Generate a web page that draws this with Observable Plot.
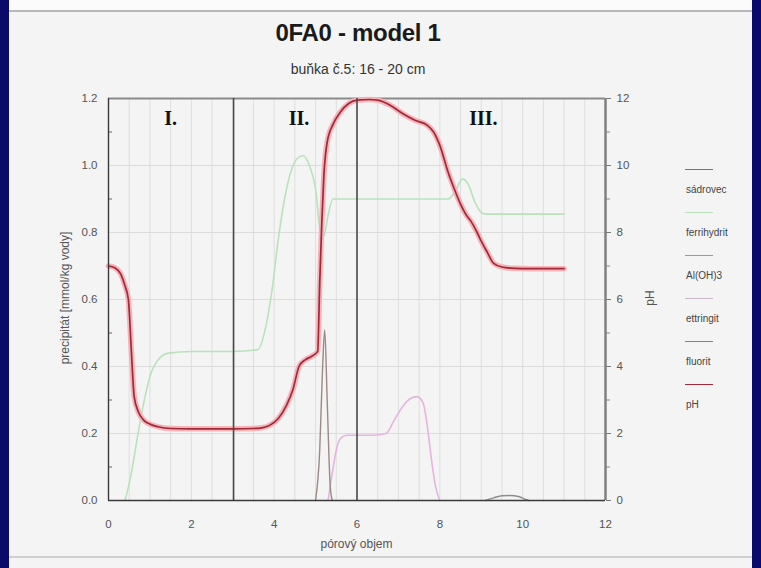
<!DOCTYPE html>
<html>
<head>
<meta charset="utf-8">
<script src="https://cdn.jsdelivr.net/npm/d3@7"></script>
<script src="https://cdn.jsdelivr.net/npm/@observablehq/plot@0.6"></script>
<style>
  html, body { margin:0; padding:0; background:#f4f4f4; }
  #frame { position:relative; width:761px; height:568px; background:#f4f4f4; overflow:hidden; font-family:"Liberation Sans", Arial, sans-serif; }
  .strip { position:absolute; background:#0a0a6a; }
  #title { position:absolute; left:0; width:716px; top:19px; text-align:center; font-weight:bold; font-size:24px; color:#1a1a1a; letter-spacing:-0.3px; }
  #subtitle { position:absolute; left:0; width:716px; top:61px; text-align:center; font-size:14px; color:#333; }
  #chart { position:absolute; left:0; top:80px; }
  #legend { position:absolute; left:684px; top:160px; font-size:10px; color:#444; }
  .item { position:relative; height:43px; }
  .item .ln { position:absolute; left:1px; top:9px; width:28px; height:0; border-top:1.5px solid #888; }
  .item .tx { position:absolute; left:2px; top:24px; white-space:nowrap; }
  .rot { position:absolute; width:300px; text-align:center; font-size:12px; color:#555; transform:rotate(-90deg); transform-origin:center center; }
  #xlab { position:absolute; left:108px; width:497px; top:537px; text-align:center; font-size:12px; color:#555; }
</style>
</head>
<body>
<div id="frame">
  <div class="strip" style="left:0;top:0;width:9px;height:568px"></div>
  <div class="strip" style="left:752px;top:0;width:9px;height:568px"></div>
  <div style="position:absolute;left:9px;top:0;width:743px;height:10px;background:#fbfbfb"></div>
  <div style="position:absolute;left:9px;top:10px;width:743px;height:2px;background:#b8b8b8"></div>
  <div style="position:absolute;left:9px;top:556px;width:743px;height:2px;background:#cfcfcf"></div>
  <div id="title">0FA0 - model 1</div>
  <div id="subtitle">buňka č.5: 16 - 20 cm</div>
  <div id="chart"></div>
  <div id="ylab" class="rot" style="left:-85px;top:291px">precipitát [mmol/kg vody]</div>
  <div id="phlab" class="rot" style="left:500px;top:291px">pH</div>
  <div id="xlab">pórový objem</div>
  <div id="legend"></div>
</div>
<script>
// ---- data ----
const phX = [0,0.15,0.3,0.4,0.48,0.55,0.62,0.72,0.85,1.0,1.2,1.5,2,3,3.5,3.7,3.9,4.1,4.3,4.45,4.6,4.75,4.9,5.05,5.1,5.15,5.2,5.28,5.43,5.6,5.8,6.0,6.3,6.5,6.8,7.1,7.4,7.7,7.85,8.0,8.2,8.35,8.5,8.65,8.75,8.9,9.0,9.15,9.3,9.5,9.8,10.2,11];
const phY = [7.0,6.95,6.75,6.4,6.0,4.5,3.1,2.65,2.4,2.28,2.2,2.15,2.14,2.14,2.15,2.17,2.25,2.45,2.85,3.3,4.0,4.2,4.3,4.45,6.5,8.3,9.7,10.7,11.25,11.6,11.85,11.95,11.97,11.95,11.8,11.55,11.35,11.2,11.0,10.6,9.8,9.3,8.85,8.5,8.34,8.0,7.74,7.4,7.08,6.97,6.93,6.92,6.92];

const ferriX = [0.4,0.55,0.7,0.85,1.0,1.2,1.45,2.0,3.0,3.6,3.8,3.95,4.1,4.25,4.4,4.55,4.7,4.85,5.0,5.12,5.2,5.3,5.42,6,7,8,8.2,8.4,8.55,8.7,8.85,9.0,9.1,10,11];
const ferriY = [0,0.08,0.19,0.29,0.37,0.42,0.44,0.445,0.445,0.45,0.52,0.63,0.78,0.9,0.98,1.02,1.03,1.0,0.93,0.8,0.79,0.85,0.9,0.9,0.9,0.9,0.9,0.93,0.96,0.94,0.89,0.86,0.855,0.855,0.855];

const ettrX = [5.3,5.4,5.5,5.6,5.75,6.0,6.4,6.7,6.9,7.1,7.3,7.45,7.6,7.7,7.8,7.9,8.0];
const ettrY = [0,0.08,0.15,0.185,0.195,0.195,0.195,0.2,0.24,0.28,0.305,0.31,0.29,0.22,0.12,0.04,0];

const sadrX = [5.0,5.1,5.17,5.22,5.28,5.35,5.4];
const sadrY = [0,0.15,0.4,0.51,0.3,0.05,0];

const aloX = [9.1,9.3,9.5,9.7,9.9,10.05,10.15];
const aloY = [0,0.008,0.014,0.015,0.012,0.004,0];

const fluoX = [];
const fluoY = [];

const zoneBounds = [3.02, 6.0];
const zoneNames = ["I.", "II.", "III."];
const zoneLabelX = [1.5, 4.6, 9.05];
const zoneLabelY = [1.14, 1.14, 1.14];

const xTicks = [0,2,4,6,8,10,12];
const yTicks = [0,0.2,0.4,0.6,0.8,1.0,1.2];
const phTicks = [0,2,4,6,8,10,12];

const legendNames = ["sádrovec","ferrihydrit","Al(OH)3","ettringit","fluorit","pH"];
const legendColors = ["#7d7470","#b9e2bb","#9a9a9a","#c9b6c9","#8c8070","#a2283a"];

// ---- build ----
const toRows = (xs, ys) => xs.map((x, i) => ({x, y: ys[i]}));
const ph = phX.map((x, i) => ({x, y: phY[i] / 10}));
const zones = zoneNames.map((t, i) => ({t, x: zoneLabelX[i], y: zoneLabelY[i]}));

const chart = Plot.plot({
  width: 761,
  height: 480,
  marginLeft: 108,
  marginRight: 156,
  marginTop: 18,
  marginBottom: 60,
  style: {background: "transparent", fontFamily: "Liberation Sans, Arial, sans-serif", fontSize: "11px", color: "#555"},
  x: {domain: [0, 12]},
  y: {domain: [0, 1.2]},
  marks: [
    Plot.gridX({ticks: d3.range(0.5, 12, 0.5), stroke: "#dedede", strokeOpacity: 1, strokeWidth: 1}),
    Plot.gridY({ticks: yTicks, stroke: "#dcdcdc", strokeOpacity: 1}),
    Plot.axisX({ticks: xTicks, tickSize: 0, tickPadding: 19, tickFormat: d => String(d), label: null, fontSize: 11.5}),
    Plot.axisY({ticks: yTicks, tickSize: 0, tickPadding: 11, tickFormat: d3.format(".1f"), label: null, fontSize: 11.5}),
    Plot.axisY({ticks: d3.range(0.1, 1.2, 0.2), tickSize: -4, text: null, label: null, stroke: "#666"}),
    Plot.axisY({anchor: "right", ticks: phTicks.map(d => d / 10), tickSize: 5, tickPadding: 6, tickFormat: d => String(Math.round(d * 10)), label: null, fontSize: 11.5, stroke: "#777"}),
    Plot.axisY({anchor: "right", ticks: d3.range(0.1, 1.2, 0.2), tickSize: 4, text: null, label: null, stroke: "#888"}),
    Plot.ruleY([1.2], {stroke: "#8a8a8a", strokeWidth: 2}),
    Plot.ruleX([12], {stroke: "#808080", strokeWidth: 2.5}),
    // series
    Plot.line(toRows(ferriX, ferriY), {x: "x", y: "y", stroke: "#b9e2bb", strokeWidth: 1.6, curve: "monotone-x"}),
    Plot.line(toRows(ettrX, ettrY), {x: "x", y: "y", stroke: "#e7b3df", strokeWidth: 1.6, curve: "monotone-x"}),
    Plot.line(toRows(sadrX, sadrY), {x: "x", y: "y", stroke: "#9a8a84", strokeWidth: 1.4, curve: "monotone-x"}),
    Plot.line(toRows(aloX, aloY), {x: "x", y: "y", stroke: "#8d8d8d", strokeWidth: 1.4, curve: "monotone-x"}),
    Plot.line(toRows(fluoX, fluoY), {x: "x", y: "y", stroke: "#8c8070", strokeWidth: 1.4}),
    Plot.line(ph, {x: "x", y: "y", stroke: "#f6b3b8", strokeWidth: 5.5, curve: "monotone-x"}),
    Plot.line(ph, {x: "x", y: "y", stroke: "#9e2a3a", strokeWidth: 1.7, curve: "monotone-x"}),
    // zone lines
    Plot.ruleX(zoneBounds, {stroke: "#4a4a4a", strokeWidth: 1.6}),
    Plot.ruleX([0], {stroke: "#3a3a3a", strokeWidth: 1.4}),
    Plot.ruleY([0], {stroke: "#3a3a3a", strokeWidth: 1.6}),
    Plot.text(zones, {x: "x", y: "y", text: "t", fontWeight: "bold", fontSize: 20, fontFamily: "Liberation Serif, serif", fill: "#111"})
  ]
});
document.getElementById("chart").appendChild(chart);

const leg = document.getElementById("legend");
legendNames.forEach((n, i) => {
  const it = document.createElement("div");
  it.className = "item";
  const ln = document.createElement("div");
  ln.className = "ln";
  ln.style.borderTopColor = legendColors[i];
  const tx = document.createElement("div");
  tx.className = "tx";
  tx.textContent = n;
  it.appendChild(ln); it.appendChild(tx);
  leg.appendChild(it);
});
</script>
</body>
</html>
